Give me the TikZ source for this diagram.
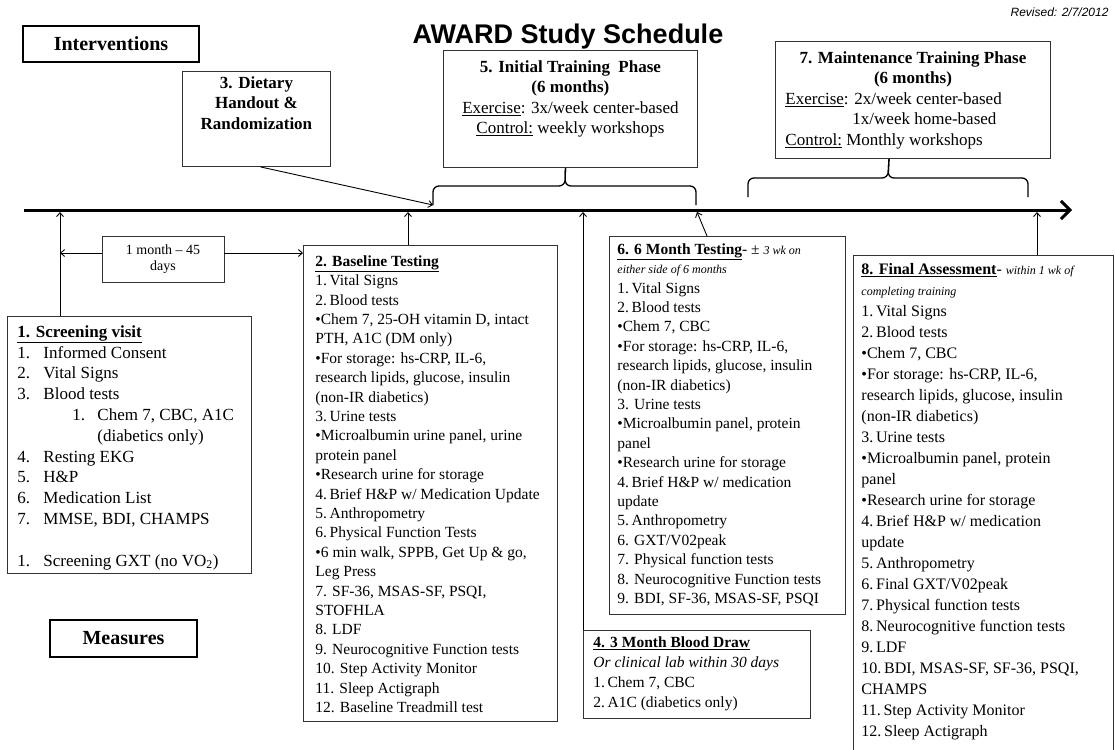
\documentclass[tikz,border=0pt]{standalone}
\usepackage{fontspec}
\setmainfont{Liberation Serif}
\newfontfamily\arialfont{Liberation Sans}
\usetikzlibrary{arrows.meta}

\newcommand{\boxbody}[3]{\parbox[t][#2][t]{#1}{#3}}
\newcommand{\itm}[2]{\makebox[26pt][l]{#1}#2}
\newcommand{\itsm}{\itshape\fontsize{12}{14}\selectfont}

\begin{document}
\begin{tikzpicture}[x=1pt,y=-1pt,>={Straight Barb[length=4pt,width=7pt]},
  phasebox/.style={draw=black!80,line width=0.9pt,anchor=north west,font=\fontsize{17}{20.5}\selectfont},
  listbox/.style={draw=black!80,line width=0.9pt,anchor=north west,font=\fontsize{15.5}{19.4}\selectfont},
  tagbox/.style={draw=black,line width=2pt,inner sep=0pt,font=\bfseries\fontsize{20}{24}\selectfont},
  conn/.style={line width=0.9pt},
  brace/.style={line width=1.3pt,rounded corners=6pt}]
\useasboundingbox (0,0) rectangle (1115,749);
\clip (0,0) rectangle (1115,749);

% headings
\node[font=\arialfont\bfseries\fontsize{27}{31}\selectfont,anchor=base] (title) at (568,44) {AWARD Study Schedule};
\node[font=\arialfont\itshape\fontsize{12}{14}\selectfont,anchor=base east] (rev) at (1112,17) {Revised: 2/7/2012};
\node[tagbox,minimum width=176pt,minimum height=36pt] (intv) at (111,44) {Interventions};
\node[tagbox,minimum width=147pt,minimum height=37pt] (meas) at (123.5,638.5) {Measures};

% timeline
\coordinate (t0) at (24,210);
\coordinate (t1) at (1072,210);
\coordinate (tl) at (0,212);
\draw[line width=3pt,-{Straight Barb[length=9pt,width=18pt]}] (t0) -- (t1);

% interventions
\node[phasebox,inner xsep=6pt,inner ysep=5pt] (diet) at (182,71)
  {\boxbody{136pt}{85pt}{\centering\bfseries 3. Dietary\\Handout \&\\Randomization}};
\node[phasebox,inner xsep=8pt,inner ysep=10pt] (init) at (443,50)
  {\boxbody{238pt}{97pt}{\centering\textbf{5. Initial Training\ \ Phase}\\\textbf{(6 months)}\\
   \underline{Exercise}: 3x/week center-based\\\underline{Control:} weekly workshops}};
\node[phasebox,inner xsep=10pt,inner ysep=10pt] (maint) at (775,41)
  {\boxbody{255pt}{97pt}{{\centering\textbf{7. Maintenance Training Phase}\\\textbf{(6 months)}\par}
   \underline{Exercise}: 2x/week center-based\\\hspace*{67pt}1x/week home-based\\
   \underline{Control:} Monthly workshops}};

% braces
\coordinate (iL) at (433,205);
\coordinate (iR) at (696,205);
\coordinate (iM) at (565,186);
\draw[brace] (iL) |- (iM) -- ([xshift=-5pt]init.south);
\draw[brace] (iR) |- (iM) -- ([xshift=-5pt]init.south);
\coordinate (mL) at (748,197);
\coordinate (mR) at (1028,197);
\coordinate (mM) at (888,178);
\draw[brace] (mL) |- (mM) -- ([xshift=-24pt]maint.south);
\draw[brace] (mR) |- (mM) -- ([xshift=-24pt]maint.south);

% measures
\node[listbox,inner xsep=10pt,inner ysep=9pt,font=\fontsize{17}{20.8}\selectfont] (scr) at (7,316)
  {\boxbody{224pt}{239pt}{\textbf{\underline{1. Screening visit}}\\
   \itm{1.}{Informed Consent}\\
   \itm{2.}{Vital Signs}\\
   \itm{3.}{Blood tests}\\
   \hspace*{55pt}\makebox[25pt][l]{1.}Chem 7, CBC, A1C\\
   \hspace*{80pt}(diabetics only)\\
   \itm{4.}{Resting EKG}\\
   \itm{5.}{H\&P}\\
   \itm{6.}{Medication List}\\
   \itm{7.}{MMSE, BDI, CHAMPS}\\
   \mbox{}\\
   \itm{1.}{Screening GXT (no VO\textsubscript{2})}}};
\node[listbox,inner xsep=12pt,inner ysep=10pt] (base) at (303,245)
  {\boxbody{230pt}{456pt}{\textbf{\underline{2. Baseline Testing}}\\
   1.\,Vital Signs\\
   2.\,Blood tests\\
   \textbullet Chem 7, 25-OH vitamin D, intact\\
   PTH, A1C (DM only)\\
   \textbullet For storage: hs-CRP, IL-6,\\
   research lipids, glucose, insulin\\
   (non-IR diabetics)\\
   3.\,Urine tests\\
   \textbullet Microalbumin urine panel, urine\\
   protein panel\\
   \textbullet Research urine for storage\\
   4.\,Brief H\&P w/ Medication Update\\
   5.\,Anthropometry\\
   6.\,Physical Function Tests\\
   \textbullet 6 min walk, SPPB, Get Up \& go,\\
   Leg Press\\
   7. SF-36, MSAS-SF, PSQI,\\
   STOFHLA\\
   8. LDF\\
   9. Neurocognitive Function tests\\
   10. Step Activity Monitor\\
   11. Sleep Actigraph\\
   12. Baseline Treadmill test}};
\node[listbox,inner xsep=8pt,inner ysep=7pt,font=\fontsize{15.5}{19.4}\selectfont] (sixm) at (609,236)
  {\boxbody{220pt}{364pt}{\textbf{\underline{6. 6 Month Testing}}- ± {\itsm 3 wk on}\\
   {\itsm either side of 6 months}\\
   1.\,Vital Signs\\
   2.\,Blood tests\\
   \textbullet Chem 7, CBC\\
   \textbullet For storage: hs-CRP, IL-6,\\
   research lipids, glucose, insulin\\
   (non-IR diabetics)\\
   3. Urine tests\\
   \textbullet Microalbumin panel, protein\\
   panel\\
   \textbullet Research urine for storage\\
   4.\,Brief H\&P w/ medication\\
   update\\
   5.\,Anthropometry\\
   6. GXT/V02peak\\
   7. Physical function tests\\
   8. Neurocognitive Function tests\\
   9. BDI, SF-36, MSAS-SF, PSQI}};
\node[listbox,inner xsep=10pt,inner ysep=6pt,font=\fontsize{15.5}{20}\selectfont] (threem) at (583,630)
  {\boxbody{207pt}{76pt}{\textbf{\underline{4. 3 Month Blood Draw}}\\
   \textit{Or clinical lab within 30 days}\\
   1.\,Chem 7, CBC\\
   2.\,A1C (diabetics only)}};
\node[listbox,inner xsep=8pt,inner ysep=8pt,font=\fontsize{16}{21}\selectfont] (fin) at (853,255)
  {\boxbody{244pt}{500pt}{\textbf{\underline{8. Final Assessment}}- {\itsm within 1 wk of}\\
   {\itsm completing training}\\
   1.\,Vital Signs\\
   2.\,Blood tests\\
   \textbullet Chem 7, CBC\\
   \textbullet For storage: hs-CRP, IL-6,\\
   research lipids, glucose, insulin\\
   (non-IR diabetics)\\
   3.\,Urine tests\\
   \textbullet Microalbumin panel, protein\\
   panel\\
   \textbullet Research urine for storage\\
   4.\,Brief H\&P w/ medication\\
   update\\
   5.\,Anthropometry\\
   6.\,Final GXT/V02peak\\
   7.\,Physical function tests\\
   8.\,Neurocognitive function tests\\
   9.\,LDF\\
   10.\,BDI, MSAS-SF, SF-36, PSQI,\\
   CHAMPS\\
   11.\,Step Activity Monitor\\
   12.\,Sleep Actigraph}};
\node[draw=black!80,line width=0.9pt,minimum width=122pt,minimum height=46pt,inner sep=0pt,
  align=center,font=\fontsize{14}{16.5}\selectfont] (mo) at (163,259) {1 month -- 45\\days};

% connectors
\coordinate (scrup) at ([xshift=53pt]scr.north west);
\draw[conn,->] (scrup) -- (scrup |- tl);
\coordinate (moL) at ([yshift=6pt]mo.west);
\coordinate (moR) at ([yshift=6pt]mo.east);
\draw[conn,->] (moL) -- (moL -| scrup);
\draw[conn,->] (moR) -- (moR -| base.west);
\coordinate (baseup) at ([xshift=105pt]base.north west);
\draw[conn,->] (baseup) -- (baseup |- tl);
\draw[conn,->] (threem.north west) -- (threem.north west |- tl);
\coordinate (sixup) at ([xshift=98pt]sixm.north west);
\coordinate (sixtip) at (697,212);
\draw[conn,->] (sixup) -- (sixtip);
\coordinate (finup) at ([xshift=184pt]fin.north west);
\draw[conn,->] (finup) -- (finup |- tl);
\draw[conn,->] ([xshift=4pt]diet.south) -- (iL);
\end{tikzpicture}
\end{document}
